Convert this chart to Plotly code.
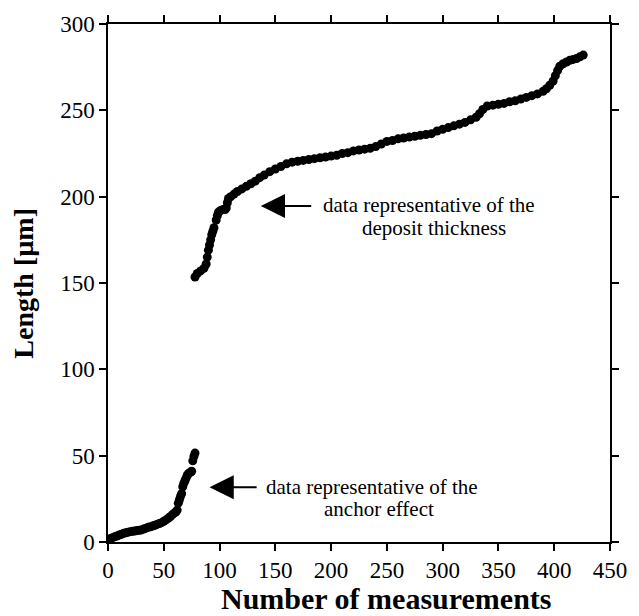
import plotly.graph_objects as go

# Sorted length measurements: anchor-effect region (short lengths)
anchor_n = [0, 2, 4, 6, 8, 10, 12, 14, 16, 18, 20, 22, 24, 26, 28, 30, 32, 34, 36, 38,
            40, 42, 44, 46, 48, 50, 52, 54, 56, 58, 60, 61, 62, 63, 64, 65, 66, 67, 68,
            69, 70, 71, 72, 73, 74, 75, 76, 77, 78]
anchor_len = [1.5, 2, 2.5, 3, 3.5, 4, 4.5, 5, 5.3, 5.7, 6, 6.2, 6.4, 6.6, 6.8, 7, 7.5, 8,
              8.5, 8.8, 9.2, 9.7, 10.2, 10.7, 11.2, 12, 12.8, 13.7, 14.8, 16, 17, 17.5,
              18.5, 22.5, 24.5, 26.5, 28, 32, 34, 35.5, 37, 38.5, 39.5, 40, 40.5, 41, 47,
              49.5, 51.5]

# Sorted length measurements: deposit-thickness region
deposit_n = [78, 80, 83, 86, 88, 89, 90, 91, 92, 93, 94, 95, 97, 98, 99, 101, 103, 105,
             106, 107, 108, 110, 113, 116, 120, 124, 128, 132, 136, 140, 145, 150, 155,
             160, 165, 170, 175, 180, 185, 190, 195, 200, 205, 210, 215, 220, 225, 230,
             235, 240, 245, 250, 255, 260, 265, 270, 275, 280, 285, 290, 295, 300, 305,
             310, 315, 320, 325, 330, 333, 336, 340, 345, 350, 355, 360, 365, 370, 375,
             380, 385, 390, 393, 396, 399, 401, 403, 405, 408, 411, 414, 417, 420, 423, 426]
deposit_len = [153.5, 155.5, 157, 158.5, 161, 165, 169, 172, 175, 178, 180, 182, 186.5,
               189, 191, 192, 192.5, 192.5, 193.5, 196.5, 199, 200, 201.5, 203, 204.5,
               206, 207.5, 209, 211, 212.5, 214.5, 216, 217.5, 219, 220, 220.5, 221,
               221.5, 222, 222.5, 223, 223.5, 224, 225, 225.5, 226.5, 227, 227.5, 228,
               229, 230.5, 232, 232.5, 233.5, 234, 234.5, 235, 235.5, 236, 236.5, 238,
               239, 240, 241, 242, 243, 244.5, 246, 248, 250.5, 252.5, 253, 253.5, 254,
               255, 255.5, 256.5, 257.5, 258.5, 259.5, 261, 262.5, 264.5, 267, 270, 273,
               275.5, 277, 278, 279, 279.5, 280, 281, 282]

x_ticks = [0, 50, 100, 150, 200, 250, 300, 350, 400, 450]
y_ticks = [0, 50, 100, 150, 200, 250, 300]

SERIF = "Liberation Serif, Times New Roman, serif"

fig = go.Figure()
fig.add_trace(go.Scatter(x=anchor_n, y=anchor_len, mode="markers",
                         marker=dict(size=9, color="black"), showlegend=False))
fig.add_trace(go.Scatter(x=deposit_n, y=deposit_len, mode="markers",
                         marker=dict(size=9, color="black"), showlegend=False))

axis_common = dict(showline=True, linecolor="black", linewidth=1.5, mirror="ticks",
                   ticks="outside", ticklen=7, tickwidth=1.5, tickcolor="black",
                   showgrid=False, zeroline=False,
                   tickfont=dict(family=SERIF, size=23, color="black"))

fig.update_xaxes(range=[0, 450], tickvals=x_ticks, **axis_common)
fig.update_yaxes(range=[0, 300], tickvals=y_ticks, **axis_common)

note_font = dict(family=SERIF, size=21, color="black")

annotations = [
    # arrows
    dict(x=137, y=194.6, ax=183.5, ay=194.6, axref="x", ayref="y", xref="x", yref="y",
         text="", showarrow=True, arrowhead=2, arrowsize=2.2, arrowwidth=2.2,
         arrowcolor="black"),
    dict(x=91, y=31.7, ax=134.6, ay=31.7, axref="x", ayref="y", xref="x", yref="y",
         text="", showarrow=True, arrowhead=2, arrowsize=2.2, arrowwidth=2.2,
         arrowcolor="black"),
    # labels
    dict(x=288, y=195, xref="x", yref="y", text="data representative of the",
         showarrow=False, font=note_font),
    dict(x=292, y=182, xref="x", yref="y", text="deposit thickness",
         showarrow=False, font=note_font),
    dict(x=237, y=32, xref="x", yref="y", text="data representative of the",
         showarrow=False, font=note_font),
    dict(x=243, y=19, xref="x", yref="y", text="anchor effect",
         showarrow=False, font=note_font),
    # axis titles
    dict(x=0.555, y=-0.11, xref="paper", yref="paper", text="<b>Number of measurements</b>",
         showarrow=False, font=dict(family=SERIF, size=30, color="black"),
         xanchor="center", yanchor="middle"),
    dict(x=-0.17, y=0.5, xref="paper", yref="paper", text="<b>Length [µm]</b>",
         showarrow=False, textangle=-90, font=dict(family=SERIF, size=28, color="black"),
         xanchor="center", yanchor="middle"),
]

fig.update_layout(width=639, height=616,
                  margin=dict(l=108, r=16, t=20, b=74),
                  paper_bgcolor="white", plot_bgcolor="white",
                  annotations=annotations)

fig.write_html("out.html")
